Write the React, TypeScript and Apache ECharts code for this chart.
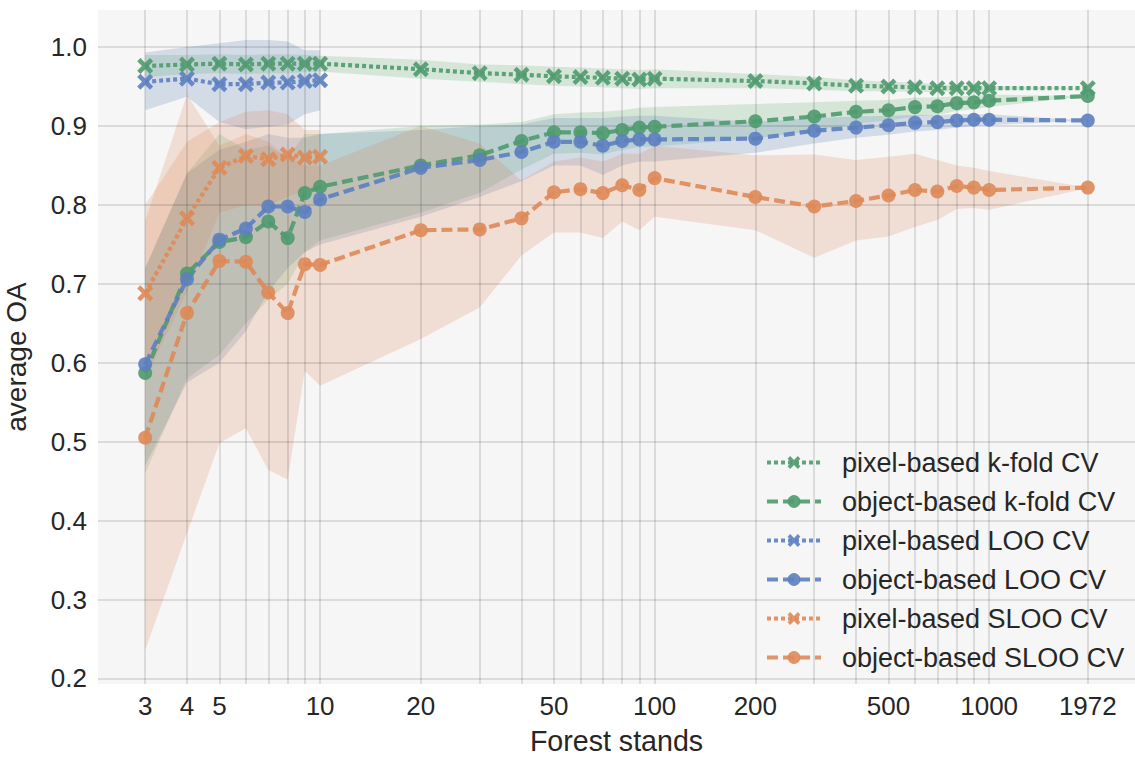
import React, { useEffect, useRef } from 'react';
import * as echarts from 'echarts';

// ---------- data ----------
const standsFull = [3, 4, 5, 6, 7, 8, 9, 10, 20, 30, 40, 50, 60, 70, 80, 90, 100, 200, 300, 400, 500, 600, 700, 800, 900, 1000, 1972];
const standsSmall = [3, 4, 5, 6, 7, 8, 9, 10];

const xTickLabels = [3, 4, 5, 10, 20, 50, 100, 200, 500, 1000, 1972];
const xGridValues = [3, 4, 5, 6, 7, 8, 9, 10, 20, 30, 40, 50, 60, 70, 80, 90, 100, 200, 300, 400, 500, 600, 700, 800, 900, 1000, 1972];
const yTickLabels = [0.2, 0.3, 0.4, 0.5, 0.6, 0.7, 0.8, 0.9, 1.0];

const pixelKfold = [0.976, 0.978, 0.979, 0.978, 0.979, 0.979, 0.979, 0.979, 0.972, 0.967, 0.965, 0.963, 0.962, 0.961, 0.960, 0.959, 0.960, 0.957, 0.954, 0.951, 0.950, 0.949, 0.948, 0.948, 0.948, 0.948, 0.948];
const pixelKfoldUpper = [0.990, 0.990, 0.991, 0.990, 0.991, 0.991, 0.990, 0.989, 0.984, 0.978, 0.977, 0.975, 0.974, 0.973, 0.972, 0.971, 0.972, 0.966, 0.962, 0.958, 0.956, 0.955, 0.953, 0.952, 0.952, 0.951, 0.948];
const pixelKfoldLower = [0.962, 0.966, 0.967, 0.966, 0.967, 0.967, 0.968, 0.969, 0.960, 0.956, 0.953, 0.951, 0.950, 0.949, 0.948, 0.947, 0.948, 0.948, 0.946, 0.944, 0.944, 0.943, 0.943, 0.944, 0.944, 0.945, 0.948];

const objectKfold = [0.587, 0.713, 0.753, 0.759, 0.779, 0.758, 0.815, 0.823, 0.850, 0.863, 0.881, 0.892, 0.892, 0.891, 0.895, 0.898, 0.899, 0.906, 0.912, 0.918, 0.920, 0.924, 0.925, 0.929, 0.930, 0.932, 0.938];
const objectKfoldUpper = [0.72, 0.84, 0.89, 0.87, 0.875, 0.86, 0.89, 0.89, 0.90, 0.902, 0.905, 0.915, 0.917, 0.918, 0.92, 0.923, 0.924, 0.928, 0.93, 0.932, 0.933, 0.936, 0.936, 0.938, 0.938, 0.94, 0.938];
const objectKfoldLower = [0.46, 0.58, 0.61, 0.65, 0.68, 0.70, 0.74, 0.755, 0.79, 0.815, 0.845, 0.865, 0.866, 0.864, 0.87, 0.873, 0.874, 0.884, 0.894, 0.903, 0.907, 0.912, 0.914, 0.919, 0.921, 0.924, 0.938];

const pixelLOO = [0.956, 0.960, 0.953, 0.953, 0.955, 0.955, 0.957, 0.958];
const pixelLOOUpper = [0.993, 1.0, 1.005, 1.009, 1.009, 1.007, 0.996, 0.996];
const pixelLOOLower = [0.920, 0.937, 0.905, 0.896, 0.899, 0.902, 0.915, 0.920];

const objectLOO = [0.598, 0.706, 0.756, 0.770, 0.798, 0.798, 0.791, 0.807, 0.847, 0.857, 0.867, 0.880, 0.880, 0.875, 0.881, 0.883, 0.883, 0.884, 0.894, 0.898, 0.901, 0.904, 0.905, 0.907, 0.908, 0.908, 0.907];
const objectLOOUpper = [0.72, 0.84, 0.87, 0.88, 0.89, 0.885, 0.885, 0.89, 0.895, 0.90, 0.902, 0.91, 0.91, 0.91, 0.912, 0.913, 0.913, 0.905, 0.91, 0.912, 0.913, 0.914, 0.914, 0.915, 0.915, 0.915, 0.907];
const objectLOOLower = [0.47, 0.575, 0.60, 0.64, 0.69, 0.72, 0.74, 0.75, 0.785, 0.81, 0.83, 0.85, 0.85, 0.838, 0.85, 0.855, 0.855, 0.866, 0.878, 0.885, 0.889, 0.893, 0.895, 0.898, 0.90, 0.901, 0.907];

const pixelSLOO = [0.688, 0.783, 0.847, 0.862, 0.858, 0.864, 0.860, 0.861];
const pixelSLOOUpper = [0.80, 0.88, 0.905, 0.918, 0.92, 0.915, 0.895, 0.895];
const pixelSLOOLower = [0.58, 0.69, 0.79, 0.80, 0.80, 0.81, 0.82, 0.82];

const objectSLOO = [0.505, 0.663, 0.729, 0.728, 0.689, 0.663, 0.725, 0.724, 0.768, 0.769, 0.783, 0.816, 0.820, 0.815, 0.825, 0.819, 0.834, 0.810, 0.798, 0.805, 0.812, 0.819, 0.817, 0.824, 0.822, 0.819, 0.822];
const objectSLOOUpper = [0.78, 0.94, 0.875, 0.89, 0.88, 0.86, 0.85, 0.85, 0.90, 0.878, 0.831, 0.855, 0.86, 0.855, 0.865, 0.865, 0.875, 0.863, 0.864, 0.857, 0.861, 0.865, 0.857, 0.85, 0.847, 0.843, 0.822];
const objectSLOOLower = [0.236, 0.384, 0.498, 0.517, 0.464, 0.452, 0.59, 0.571, 0.63, 0.67, 0.736, 0.765, 0.765, 0.758, 0.779, 0.768, 0.785, 0.768, 0.733, 0.755, 0.76, 0.772, 0.781, 0.795, 0.796, 0.794, 0.821];

// ---------- styling ----------
const GREEN = '#55a868';
const BLUE = '#4c72b0';
const ORANGE = '#dd8452';
const GREEN_LINE = '#4f9a6e';
const BLUE_LINE = '#5d80c0';
const ORANGE_LINE = '#de8a58';
const TEXT = '#262626';
const FONT = '"Liberation Sans", Arial, sans-serif';
const X_SYMBOL = 'path://M2,0 L5,3 L8,0 L10,2 L7,5 L10,8 L8,10 L5,7 L2,10 L0,8 L3,5 L0,2 Z';
const DOTTED = [4, 3];
const DASHED = [11, 5];

const pairs = (xs: number[], ys: number[]) => xs.map((x, i) => [x, ys[i]]);

function bandSeries(id: string, xs: number[], lower: number[], upper: number[], color: string) {
  return {
    type: 'custom', name: id, silent: true, z: 1,
    data: [[xs[0], lower[0]]],
    clip: true,
    renderItem: (params: any, api: any) => {
      const top = xs.map((x, i) => api.coord([x, upper[i]]));
      const bottom = xs.map((x, i) => api.coord([x, lower[i]])).reverse();
      return {
        type: 'polygon',
        shape: { points: [...top, ...bottom] },
        style: { fill: color, opacity: 0.2, stroke: 'none' },
        silent: true,
      };
    },
  };
}

function lineSeries(name: string, xs: number[], ys: number[], color: string, isPixel: boolean) {
  return {
    type: 'line', name, data: pairs(xs, ys),
    symbol: isPixel ? X_SYMBOL : 'circle',
    symbolSize: isPixel ? 16 : 14,
    showAllSymbol: true,
    lineStyle: { color, width: 4.2, type: isPixel ? DOTTED : DASHED, opacity: 0.9 },
    itemStyle: { color, opacity: 0.9 },
    z: 3, silent: true,
    emphasis: { disabled: true },
  };
}

const names = [
  'pixel-based k-fold CV',
  'object-based k-fold CV',
  'pixel-based LOO CV',
  'object-based LOO CV',
  'pixel-based SLOO CV',
  'object-based SLOO CV',
];

export default function App() {
  const ref = useRef<HTMLDivElement>(null);
  useEffect(() => {
    if (!ref.current) return;
    const chart = echarts.init(ref.current, undefined, { renderer: 'svg' });
    const option = {
      animation: false,
      backgroundColor: '#ffffff',
      textStyle: { fontFamily: FONT },
      grid: {
        left: 98, right: 0, top: 10, bottom: 73,
        show: true, backgroundColor: '#f6f6f6', borderWidth: 0,
      },
      xAxis: {
        type: 'log', logBase: 10, min: 2.168, max: 2729,
        axisLine: { show: false }, axisTick: { show: false }, splitLine: { show: false },
        minorSplitLine: { show: false },
        axisLabel: {
          customValues: xTickLabels,
          formatter: (v: number) => String(Math.round(v)),
          fontSize: 26, color: TEXT, fontFamily: FONT, margin: 9,
        },
      },
      yAxis: {
        type: 'value', min: 0.193, max: 1.047,
        axisLine: { show: false }, axisTick: { show: false }, splitLine: { show: false },
        axisLabel: {
          customValues: yTickLabels,
          formatter: (v: number) => v.toFixed(1),
          fontSize: 26, color: TEXT, fontFamily: FONT, margin: 11,
        },
      },
      legend: {
        data: names,
        orient: 'vertical',
        left: 765, top: 449, padding: 0,
        itemWidth: 54, itemHeight: 16, itemGap: 12,
        selectedMode: false,
        lineStyle: { width: 4 },
        textStyle: { fontSize: 27, color: TEXT, fontFamily: FONT, lineHeight: 26, padding: [0, 0, 0, 16] },
      },
      graphic: [
        {
          type: 'text', x: 16, y: 357, rotation: Math.PI / 2, silent: true,
          style: { text: 'average OA', fill: TEXT, font: `28px ${FONT}`, textAlign: 'center', textVerticalAlign: 'middle' },
        },
        {
          type: 'text', x: 616.5, y: 741, silent: true,
          style: { text: 'Forest stands', fill: TEXT, font: `28.6px ${FONT}`, textAlign: 'center', textVerticalAlign: 'middle' },
        },
      ],
      series: [
        {
          type: 'line', name: 'grid', data: [], silent: true, z: 2,
          markLine: {
            silent: true, z: 2, symbol: ['none', 'none'], label: { show: false },
            lineStyle: { color: 'rgba(0,0,0,0.11)', width: 2, type: 'solid' },
            emphasis: { disabled: true },
            data: [
              ...xGridValues.map((v) => ({ xAxis: v })),
              ...yTickLabels.map((v) => ({ yAxis: v })),
            ],
          },
        },
        bandSeries('b1', standsFull, pixelKfoldLower, pixelKfoldUpper, GREEN),
        bandSeries('b2', standsFull, objectKfoldLower, objectKfoldUpper, GREEN),
        bandSeries('b3', standsSmall, pixelLOOLower, pixelLOOUpper, BLUE),
        bandSeries('b4', standsFull, objectLOOLower, objectLOOUpper, BLUE),
        bandSeries('b5', standsSmall, pixelSLOOLower, pixelSLOOUpper, ORANGE),
        bandSeries('b6', standsFull, objectSLOOLower, objectSLOOUpper, ORANGE),
        lineSeries(names[0], standsFull, pixelKfold, GREEN_LINE, true),
        lineSeries(names[1], standsFull, objectKfold, GREEN_LINE, false),
        lineSeries(names[2], standsSmall, pixelLOO, BLUE_LINE, true),
        lineSeries(names[3], standsFull, objectLOO, BLUE_LINE, false),
        lineSeries(names[4], standsSmall, pixelSLOO, ORANGE_LINE, true),
        lineSeries(names[5], standsFull, objectSLOO, ORANGE_LINE, false),
      ],
    };
    chart.setOption(option as any);
    return () => chart.dispose();
  }, []);
  return (
    <div
      ref={ref}
      style={{ position: 'absolute', left: 0, top: 0, width: 1135, height: 757 }}
    />
  );
}
